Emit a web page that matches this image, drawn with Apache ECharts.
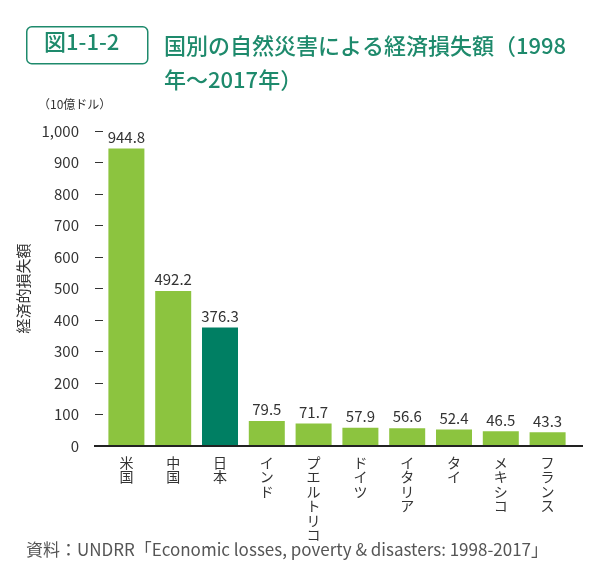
<!DOCTYPE html>
<html>
<head>
<meta charset="utf-8">
<script src="https://cdn.jsdelivr.net/npm/echarts@6/dist/echarts.min.js"></script>
<style>
  html, body { margin: 0; padding: 0; background: #fff; }
  #chart { width: 595px; height: 566px; }
</style>
</head>
<body>
<div id="chart"></div>
<script>
// 国名
var countries = ['米国', '中国', '日本', 'インド', 'プエルトリコ', 'ドイツ', 'イタリア', 'タイ', 'メキシコ', 'フランス'];
// 経済損失額（10億ドル）
var losses = [944.8, 492.2, 376.3, 79.5, 71.7, 57.9, 56.6, 52.4, 46.5, 43.3];
// 強調する国
var highlight = '日本';

var FONT = '"Noto Sans CJK JP", "Noto Sans", sans-serif';
var GREEN = '#8cc43f';
var TEAL = '#007f63';
var TITLE = '#1e8a6c';
var INK = '#333';

var chart = echarts.init(document.getElementById('chart'));

var barData = [];
for (var i = 0; i < losses.length; i++) {
    barData.push({
        value: losses[i],
        itemStyle: { color: countries[i] === highlight ? TEAL : GREEN }
    });
}

var option = {
    animation: false,
    textStyle: { fontFamily: FONT },
    grid: { left: 103, right: 24, top: 131, bottom: 120 },
    graphic: [
        {
            id: 'box',
            type: 'rect',
            left: 26, top: 26,
            shape: { width: 121, height: 37, r: 5 },
            style: { fill: '#fff', stroke: TITLE, lineWidth: 1.5 }
        },
        {
            id: 'fig',
            type: 'text',
            left: 44, top: 31,
            style: { text: '図1-1-2', fill: TITLE, font: '500 22px ' + FONT }
        },
        {
            id: 'title',
            type: 'text',
            left: 164, top: 29,
            style: {
                text: '国別の自然災害による経済損失額（1998\n年～2017年）',
                fill: TITLE, font: '500 22px ' + FONT, lineHeight: 34
            }
        },
        {
            id: 'unit',
            type: 'text',
            left: 38, top: 98,
            style: { text: '（10億ドル）', fill: INK, font: '12px ' + FONT }
        },
        {
            id: 'source',
            type: 'text',
            left: 26, top: 541,
            style: {
                text: '資料：UNDRR「Economic losses, poverty & disasters: 1998-2017」',
                fill: '#555', font: '17px ' + FONT
            }
        }
    ],
    xAxis: {
        type: 'category',
        data: countries,
        axisLine: { show: false },
        axisTick: { show: false },
        axisLabel: {
            interval: 0,
            color: INK,
            fontSize: 14,
            lineHeight: 14.5,
            margin: 9,
            formatter: function (v) { return v.split('').join('\n'); }
        }
    },
    yAxis: {
        type: 'value',
        min: 0, max: 1000, interval: 100,
        name: '経済的損失額',
        nameLocation: 'middle',
        nameRotate: 90,
        nameGap: 64,
        nameTextStyle: { color: INK, fontSize: 15 },
        axisLine: { show: false },
        axisTick: { show: true, length: 8, lineStyle: { color: INK } },
        splitLine: { show: false },
        axisLabel: {
            color: INK,
            fontSize: 15,
            margin: 24,
            formatter: function (v) { return v.toLocaleString('en-US'); }
        }
    },
    series: [{
        type: 'bar',
        data: barData,
        barWidth: 36,
        label: {
            show: true,
            position: 'top',
            distance: 4,
            color: INK,
            fontSize: 15,
            formatter: function (p) { return p.value.toFixed(1); }
        }
    }]
};

chart.setOption(option);

// 横軸の線はグリッドより左右に少し長く引く
var y0 = chart.convertToPixel({ yAxisIndex: 0 }, 0);
chart.setOption({
    graphic: [{
        id: 'baseline',
        type: 'line',
        z: 10,
        shape: { x1: 94, y1: y0, x2: 583, y2: y0 },
        style: { stroke: '#222', lineWidth: 2 }
    }]
});
</script>
</body>
</html>
